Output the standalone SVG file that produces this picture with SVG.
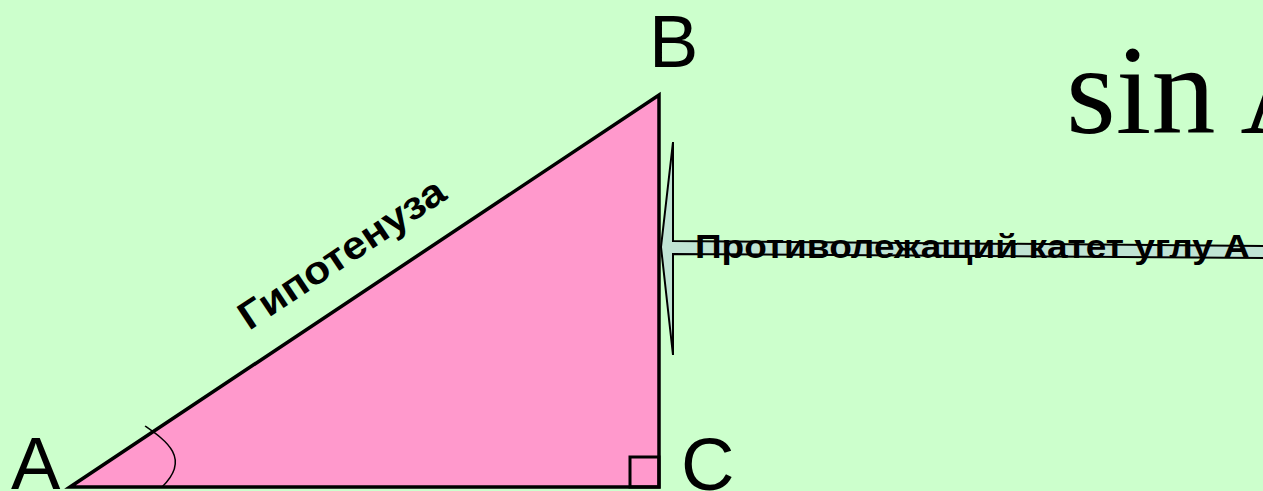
<svg xmlns="http://www.w3.org/2000/svg" width="1263" height="491" viewBox="0 0 1263 491">
<style>
.lbl{font-family:"Liberation Sans",Arial,sans-serif;font-size:74px;fill:#000}
.bold{font-family:"Liberation Sans",Arial,sans-serif;font-weight:bold;fill:#000}
</style>
<rect x="0" y="0" width="1263" height="491" fill="#CCFFCC"/>
<g id="triangle">
<polygon points="70,487 659,95 659,487" fill="#FF99CC" stroke="#000" stroke-width="3.5" stroke-linejoin="miter"/>
<rect x="630" y="457" width="29" height="30" fill="none" stroke="#000" stroke-width="3"/>
<path d="M145,426 C165,440 192,458 162,487" fill="none" stroke="#000" stroke-width="1.5"/>
</g>
<g id="connectors">
<polygon points="1270,246 673,241 673,142 661,247 673,355 673,254 1270,258" fill="#C0E4D4" stroke="#000" stroke-width="2"/>
</g>
<g id="label-A"><text class="lbl" x="11" y="489">A</text></g>
<g id="label-B"><text class="lbl" x="649" y="67">B</text></g>
<g id="label-C"><text class="lbl" x="681" y="490">C</text></g>
<g id="hyp-label"><text class="bold" font-size="39" textLength="240" lengthAdjust="spacingAndGlyphs" transform="translate(249,331) rotate(-33.65)">Гипотенуза</text></g>
<g id="opp-label"><text class="bold" font-size="33" x="695" y="258" textLength="555" lengthAdjust="spacingAndGlyphs">Противолежащий катет углу А</text></g>
<g id="formula"><text x="1066" y="133" font-family="'Liberation Serif','Times New Roman',serif" font-size="128" fill="#000">sin A</text></g>
</svg>
